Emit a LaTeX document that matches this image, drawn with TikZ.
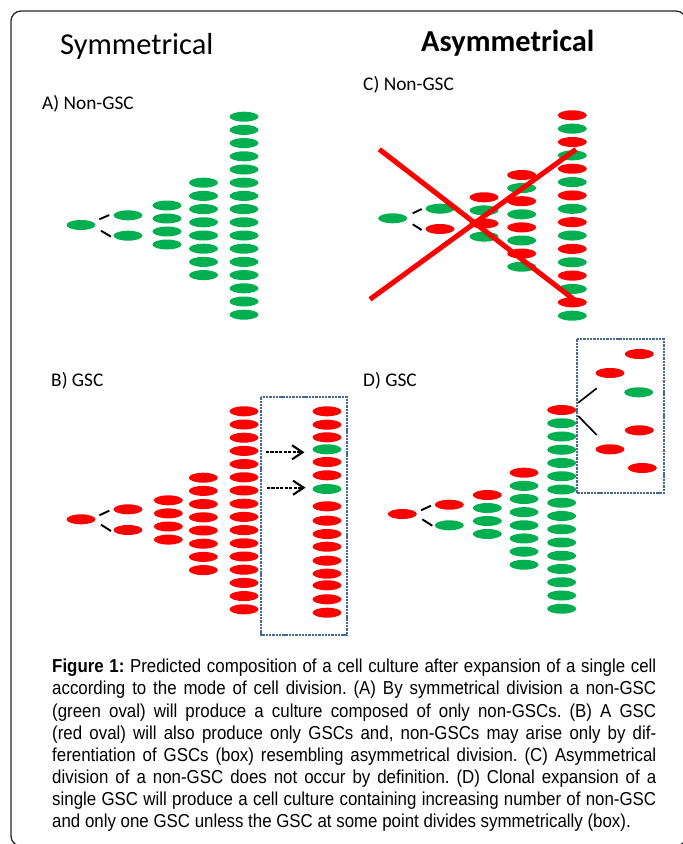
\documentclass[tikz,border=0pt]{standalone}
\usepackage{fontspec}
\setmainfont{Carlito}
\newfontfamily\capfont[FakeStretch=0.90]{Liberation Sans}
\usetikzlibrary{arrows.meta,calc,shapes.geometric}
\definecolor{gscred}{RGB}{255,0,0}
\definecolor{ngscgreen}{RGB}{0,176,80}
\definecolor{boxblue}{RGB}{74,104,150}
\newcommand{\capline}[1]{\makebox[18.12cm][s]{#1}}
\frenchspacing

\tikzset{
	cell/.style={ellipse, minimum width=0.87cm, minimum height=0.3cm, inner sep=0pt},
	gsc/.style={cell, fill=gscred},
	ngsc/.style={cell, fill=ngscgreen},
	splitline/.style={line width=1.6pt, black},
	branchline/.style={line width=1.4pt, black},
	crossout/.style={line width=4.3pt, gscred},
	dbox/.style={draw=boxblue, line width=1.7pt, dash pattern=on 2pt off 0.8pt},
	diffarrow/.style={line width=1.8pt, dash pattern=on 2.6pt off 1.2pt, -{Straight Barb[length=9pt,width=12pt,line width=1.8pt]}},
	headtext/.style={font=\fontsize{26}{30}\selectfont, anchor=base west, inner sep=0pt},
	paneltext/.style={font=\fontsize{16.5}{20}\selectfont, anchor=base west, inner sep=0pt},
	frame/.style={draw=black!85, line width=1.1pt, rounded corners=0.3cm}
}

\begin{document}
\begin{tikzpicture}[x=0.03cm, y=-0.03cm]
			\useasboundingbox (0,0) rectangle (683,844);
			\begin{scope}
				\clip (0,0) rectangle (683,844);
				\draw[frame] (11,11) rectangle (686,846);
			\end{scope}
			
			%%%%% HEADINGS %%%%%
			\node[headtext] (symhead) at (60,55) {Symmetrical};
			\node[headtext, font=\fontsize{26}{30}\selectfont\bfseries] (asymhead) at (421,52) {Asymmetrical};
			\node[paneltext] (alabel) at (42,110) {A) Non-GSC};
			\node[paneltext] (clabel) at (363,91) {C) Non-GSC};
			\node[paneltext] (blabel) at (51,386) {B) GSC};
			\node[paneltext] (dlabel) at (363,386) {D) GSC};
			
			%%%%% A) symmetrical, non-GSC %%%%%
			\node[ngsc] (a1) at (81,225) {};
			\node[ngsc] (a2-0) at (128,215.3) {};
			\node[ngsc] (a2-1) at (128,235.7) {};
			\foreach \i in {0,...,3}
				\node[ngsc] (a3-\i) at (167,205.5+13*\i) {};
			\foreach \i in {0,...,7}
				\node[ngsc] (a4-\i) at (203.5,182.7+13.2*\i) {};
			\foreach \i in {0,...,15}
				\node[ngsc] (a5-\i) at (244,116.7+13.2*\i) {};
			\draw[splitline] ($(a1)+(18.3,-5.7)$) -- +(10,-4.3);
			\draw[splitline] ($(a1)+(20,5.7)$) -- +(10,6);
			
			%%%%% B) symmetrical, GSC %%%%%
			\node[gsc] (b1) at (81,519.3) {};
			\node[gsc] (b2-0) at (128,509.3) {};
			\node[gsc] (b2-1) at (128,530) {};
			\foreach \i in {0,...,3}
				\node[gsc] (b3-\i) at (168.3,500.3+13.1*\i) {};
			\foreach \i in {0,...,7}
				\node[gsc] (b4-\i) at (203.3,477.7+13.2*\i) {};
			\foreach \i in {0,...,15}
				\node[gsc] (b5-\i) at (244,411.3+13.2*\i) {};
			\draw[splitline] ($(b1)+(18.3,-4)$) -- +(10,-4.6);
			\draw[splitline] ($(b1)+(20,5.4)$) -- +(10,6.3);
			
			\draw[dbox] (260.7,397.3) rectangle (346.7,635);
			\foreach \y/\c [count=\i from 0] in {411.3/gsc, 424.7/gsc, 437.3/gsc, 449.3/ngsc, 462/gsc, 475.3/gsc, 489/ngsc, 506.3/gsc, 520.7/gsc, 534/gsc, 546.7/gsc, 560.7/gsc, 573.7/gsc, 585.3/gsc, 599.3/gsc, 612.7/gsc}
				\node[\c] (b6-\i) at (327,\y) {};
			\draw[diffarrow] ($(b6-3)+(-61,3)$) -- ($(b6-3)+(-22.5,3)$);
			\draw[diffarrow] ($(b6-6)+(-60,-1.3)$) -- ($(b6-6)+(-21.5,-1.3)$);
			
			%%%%% C) asymmetrical, non-GSC %%%%%
			\node[ngsc] (c1) at (392.7,218.3) {};
			\node[ngsc] (c2-0) at (440,208.7) {};
			\node[gsc] (c2-1) at (440,229) {};
			\foreach \i in {0,...,3}{
				\ifodd\i \def\c{ngsc}\else \def\c{gsc}\fi
				\node[\c] (c3-\i) at (484,197.3+13.1*\i) {};
			}
			\foreach \i in {0,...,7}{
				\ifodd\i \def\c{ngsc}\else \def\c{gsc}\fi
				\node[\c] (c4-\i) at (521.7,175+13.1*\i) {};
			}
			\foreach \i in {0,...,15}{
				\ifodd\i \def\c{ngsc}\else \def\c{gsc}\fi
				\node[\c] (c5-\i) at (572.3,115.3+13.36*\i) {};
			}
			\draw[splitline] ($(c1)+(20,-5)$) -- +(9,-4.3);
			\draw[splitline] ($(c1)+(20,6)$) -- +(9,5.7);
			% does not occur
			\draw[crossout] (379.3,149.3) -- (576.7,301.7);
			\draw[crossout] (370,299.3) -- (576,149.3);
			
			%%%%% D) asymmetrical, GSC %%%%%
			\node[gsc] (d1) at (402.3,514) {};
			\node[gsc] (d2-0) at (449.3,504.7) {};
			\node[ngsc] (d2-1) at (449.3,525.3) {};
			\node[gsc] (d3-0) at (487.3,495) {};
			\foreach \i in {1,...,3}
				\node[ngsc] (d3-\i) at (487.3,495+13*\i) {};
			\node[gsc] (d4-0) at (524,472.7) {};
			\foreach \i in {1,...,7}
				\node[ngsc] (d4-\i) at (524,472.7+13.15*\i) {};
			\node[gsc] (d5-0) at (561.7,410) {};
			\foreach \i in {1,...,15}
				\node[ngsc] (d5-\i) at (561.7,410+13.25*\i) {};
			\draw[splitline] ($(d1)+(18.7,-3.7)$) -- +(10,-4.6);
			\draw[splitline] ($(d1)+(20,5.3)$) -- +(10,6.4);
			
			\draw[dbox] (577.3,339.3) rectangle (663.7,493.3);
			\node[gsc] (d6-0) at (639.3,354) {};
			\node[gsc] (d6-1) at (610,373) {};
			\node[ngsc] (d6-2) at (638.7,392.3) {};
			\node[gsc] (d6-3) at (639.3,430.3) {};
			\node[gsc] (d6-4) at (610,449.3) {};
			\node[gsc] (d6-5) at (642.3,468) {};
			\draw[branchline] ($(d5-0)+(16.6,-7.3)$) -- +(18.4,-14.4);
			\draw[branchline] ($(d5-0)+(16.6,6)$) -- +(18.4,19);
			
			%%%%% CAPTION %%%%%
			\node[anchor=north west, inner sep=0pt, align=left, font=\capfont\fontsize{16}{18.9}\selectfont] (caption) at (52,659) {%
				\capline{\textbf{Figure 1:} Predicted composition of a cell culture after expansion of a single cell}\\
				\capline{according to the mode of cell division. (A) By symmetrical division a non-GSC}\\
				\capline{(green oval) will produce a culture composed of only non-GSCs. (B) A GSC}\\
				\capline{(red oval) will also produce only GSCs and, non-GSCs may arise only by dif-}\\
				\capline{ferentiation of GSCs (box) resembling asymmetrical division. (C) Asymmetrical}\\
				\capline{division of a non-GSC does not occur by definition. (D) Clonal expansion of a}\\
				\capline{single GSC will produce a cell culture containing increasing number of non-GSC}\\
				and only one GSC unless the GSC at some point divides symmetrically (box).};
\end{tikzpicture}
\end{document}
